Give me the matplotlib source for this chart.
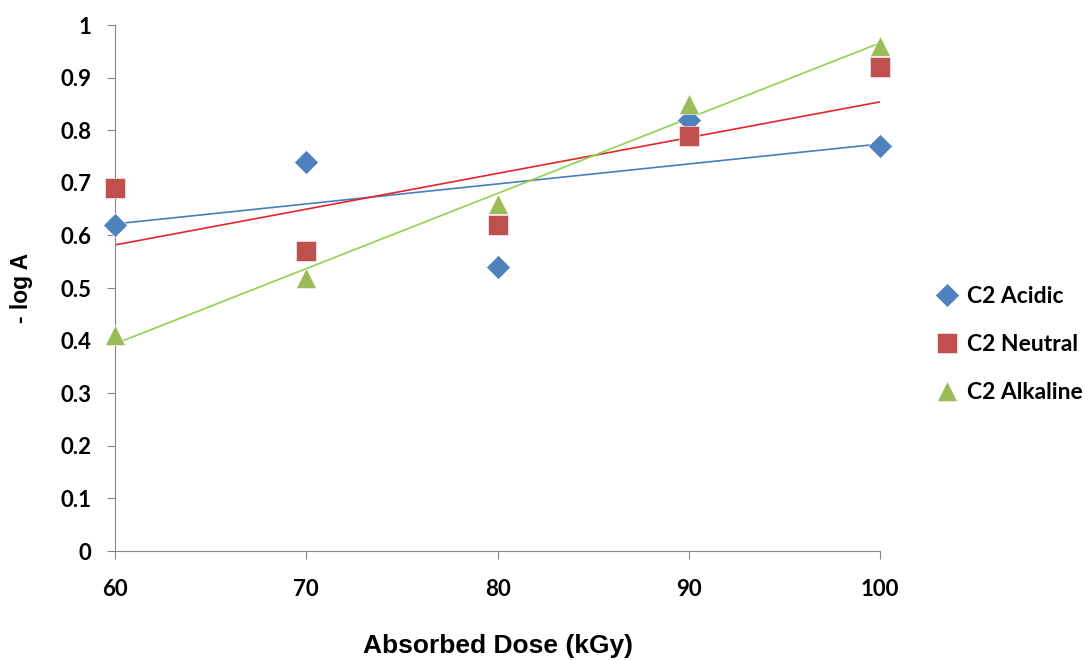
import numpy as np
import matplotlib.pyplot as plt

# data
dose = [60, 70, 80, 90, 100]
acidic = [0.62, 0.74, 0.54, 0.82, 0.77]
neutral = [0.69, 0.57, 0.62, 0.79, 0.92]
alkaline = [0.41, 0.52, 0.66, 0.85, 0.96]
y_ticks = [0, 0.1, 0.2, 0.3, 0.4, 0.5, 0.6, 0.7, 0.8, 0.9, 1]
y_labels = ['0', '0.1', '0.2', '0.3', '0.4', '0.5', '0.6', '0.7', '0.8', '0.9', '1']

plt.rcParams['font.family'] = ['Lato', 'DejaVu Sans']
plt.rcParams['font.weight'] = 'bold'

fig = plt.figure(figsize=(10.89, 6.6), dpi=100)
ax = fig.add_axes([0.1056, 0.165, 0.7025, 0.797])

series = [
    ('C2 Acidic', acidic, 'D', 12, '#4F81BD', '#4A7EBB'),
    ('C2 Neutral', neutral, 's', 14.5, '#C0504D', '#E0262B'),
    ('C2 Alkaline', alkaline, '^', 14.5, '#9BBB59', '#92D050'),
]

x = np.array(dose)
for nome, vals, mk, ms, cor, cor_linha in series:
    # linha de tendencia linear
    a, b = np.polyfit(x, vals, 1)
    ax.plot(x, a * x + b, color=cor_linha, lw=1.2, zorder=2)
    ax.plot(x, vals, linestyle='none', marker=mk, markersize=ms, color=cor,
            markeredgecolor='white', markeredgewidth=0.4, label=nome,
            clip_on=False, zorder=3)

ax.set_xlim(60, 100)
ax.set_ylim(0, 1)
ax.set_xticks(dose)
ax.set_yticks(y_ticks)
ax.set_yticklabels(y_labels)

for s in ['top', 'right']:
    ax.spines[s].set_visible(False)
for s in ['left', 'bottom']:
    ax.spines[s].set_color('#868686')
ax.tick_params(direction='out', length=6, color='#868686', labelsize=16)
ax.tick_params(axis='x', pad=14)
ax.tick_params(axis='y', pad=11)
for lbl in ax.get_xticklabels() + ax.get_yticklabels():
    lbl.set_fontweight('bold')

ax.set_xlabel('Absorbed Dose (kGy)', fontsize=19, fontweight='bold',
              family=['Liberation Sans', 'DejaVu Sans'], va='center')
ax.xaxis.set_label_coords(0.5, -0.181)
ax.set_ylabel('- log A', fontsize=16.5, fontweight='bold',
              family=['Liberation Sans', 'DejaVu Sans'], va='center')
ax.yaxis.set_label_coords(-0.1216, 0.5)

leg = ax.legend(loc='center left', bbox_to_anchor=(1.0725, 0.3935), frameon=False,
                fontsize=16.5, handletextpad=0.37, labelspacing=1.18,
                handlelength=1.0, borderpad=0, borderaxespad=0, markerscale=1)
for t in leg.get_texts():
    t.set_fontweight('bold')

fig.savefig('out.png', dpi=100)
